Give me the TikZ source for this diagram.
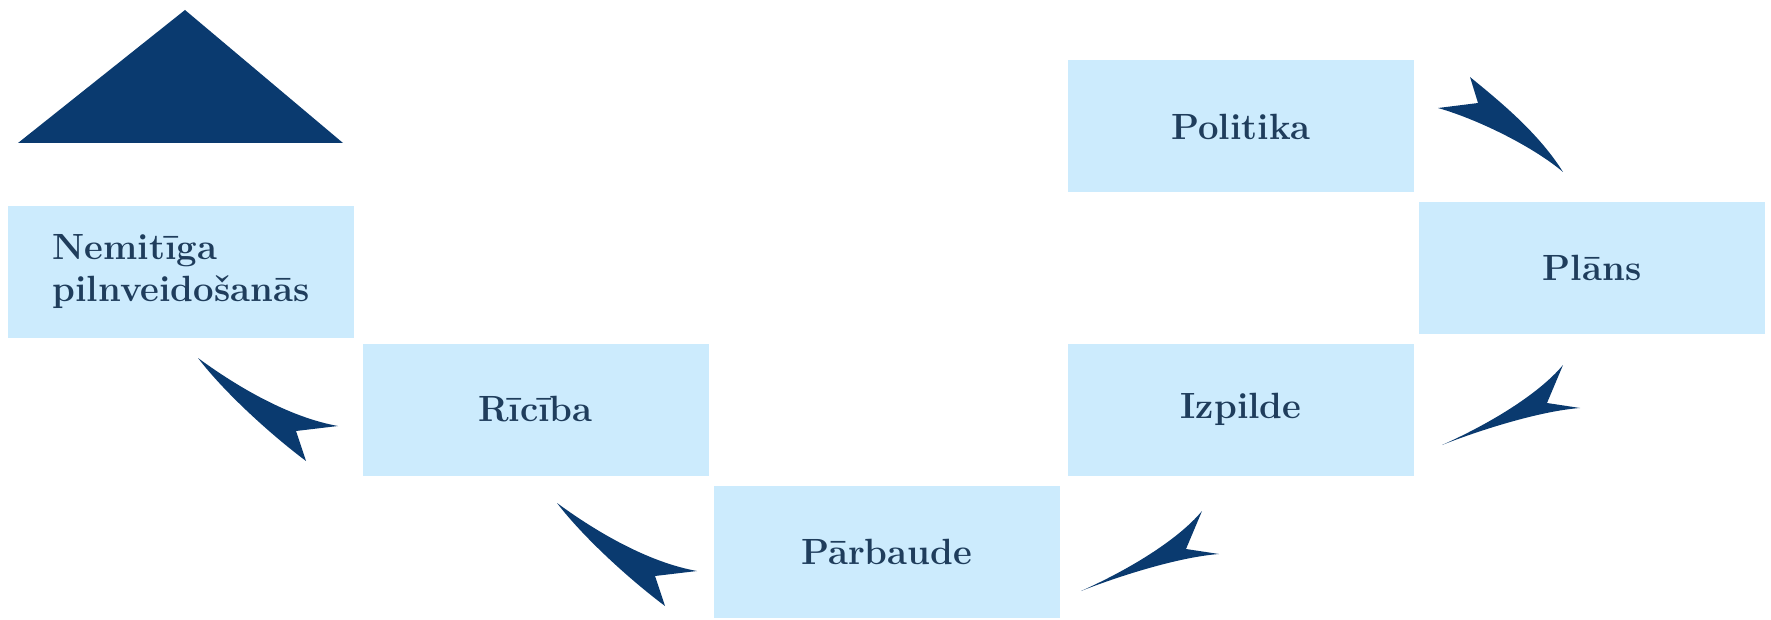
\documentclass[tikz,border=0pt]{standalone}
\usepackage{fontspec}
\definecolor{boxfill}{HTML}{CCEBFD}
\definecolor{boxtext}{HTML}{1F3D5C}
\definecolor{navy}{HTML}{0A3A6F}
\tikzset{
  stagebox/.style={fill=boxfill, draw=none, minimum width=346pt, minimum height=132pt,
    inner sep=0pt, text=boxtext, font=\fontsize{36.5}{42}\selectfont\bfseries},
  swooshdown/.pic={% tip at the origin, pointing down-left
    \fill[navy] (0,0) .. controls (45,-20) and (96,-50) .. (121,-80)
      -- (105,-42) -- (138,-37)
      .. controls (98,-34) and (38,-15) .. (0,0) -- cycle;},
  swooshup/.pic={% tip at the origin, pointing up-left
    \fill[navy] (0,0) .. controls (45,33) and (95,60) .. (140,68)
      -- (98,73) -- (108,103)
      .. controls (72,76) and (26,34) .. (0,0) -- cycle;}
}
\begin{document}
\begin{tikzpicture}[x=1pt,y=-1pt]
\useasboundingbox (0,0) rectangle (1771,620);
% triangle
\fill[navy] (18,143) -- (343,143) -- (185,10) -- cycle;
% boxes
\node[stagebox] (pol) at (1241,126.5) {Politika};
\node[stagebox] (plan) at (1592,268) {Plāns};
\node[stagebox] (izp) at (1241,409.5) {Izpilde};
\node[stagebox] (parb) at (886.5,551.5) {Pārbaude};
\node[stagebox] (ric) at (535.5,409.5) {Rīcība};
\node[stagebox, align=left] (nem) at (181,272) {Nemitīga\\pilnveidošanās};
% arrow Politika -> Plans
\fill[navy] (1470,77) .. controls (1498,100) and (1538,132) .. (1563,172)
  .. controls (1535,148) and (1480,120) .. (1438,108)
  -- (1478,103) -- cycle;
% arrows Plans -> Izpilde and Izpilde -> Parbaude
\pic at (1442,445) {swooshdown};
\pic at (1081,591) {swooshdown};
% arrows Parbaude -> Ricība and Ricība -> Nemitiga
\pic at (198,358) {swooshup};
\pic at (557,503) {swooshup};
\end{tikzpicture}
\end{document}
